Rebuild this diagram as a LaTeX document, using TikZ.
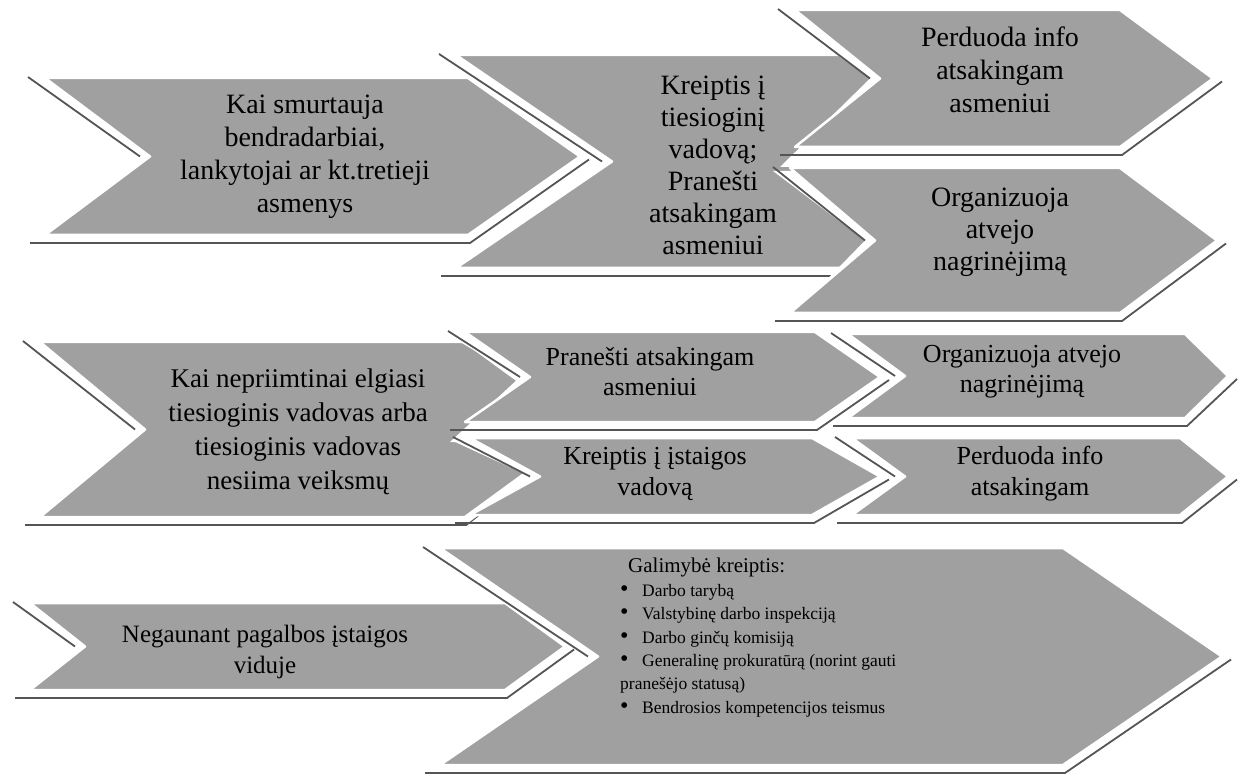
\documentclass[tikz,border=0pt]{standalone}
\usepackage{fontspec}
\setmainfont{Liberation Serif}
\definecolor{chev}{RGB}{160,160,160}
\definecolor{shad}{RGB}{85,85,85}
\tikzset{
  chevbody/.style={fill=chev, draw=white, line width=2.5pt, line join=round},
  shadowline/.style={draw=shad, line width=1.8pt},
  txt/.style={align=center, inner sep=0pt, text=black},
}
\newcommand\bul{\makebox[22pt][l]{\fontsize{24}{23.4}\selectfont •}}
% #1 name, #2 left x, #3 notch x, #4 right x, #5 tip x, #6 top y, #7 bottom y
\newcommand\chevshape[7]{%
  \pgfmathsetmacro\cy{(#6+#7)/2}
  \fill[white] ({#2-17},{#6+3}) -- ({#3-10},\cy) -- ({#2-15},{#7+20}) -- ({#4+2},{#7+20})
     -- ({#5+10},{\cy+3}) -- (#5,\cy) -- (#4,{#6+3}) -- cycle;
  \draw[shadowline] ({#2-17},{#6-1}) -- ({#3-10},\cy);
  \draw[shadowline] ({#2-15},{#7+8}) -- ({#4+2},{#7+8}) -- ({#5+9},{\cy+3});
  \filldraw[chevbody] (#2,#6) -- (#4,#6) -- (#5,\cy) -- (#4,#7) -- (#2,#7) -- (#3,\cy) -- cycle;
  \coordinate (#1) at ({(#3+#4)/2},\cy);
}
\begin{document}
\begin{tikzpicture}[x=1pt,y=-1pt]
\useasboundingbox (0,0) rectangle (1242,783);
% row 1
\chevshape{A}{45}{150}{468}{580}{78}{235}
\chevshape{B}{456}{612}{860}{960}{55}{268}
\chevshape{C}{795}{880}{1120}{1213}{10}{147}
\chevshape{D}{790}{875}{1120}{1217}{168}{313}
% row 2
\chevshape{E}{40}{145}{465}{585}{342}{517}
\chevshape{F}{465}{530}{815}{880}{332}{422}
\chevshape{G}{470}{540}{812}{880}{438}{515}
\chevshape{H}{848}{905}{1185}{1228}{334}{418}
\chevshape{I}{852}{905}{1180}{1228}{438}{515}
% row 3
\chevshape{J}{30}{85}{505}{565}{603}{690}
\chevshape{K}{440}{598}{1063}{1222}{548}{765}

\node[txt, font=\fontsize{28}{33}\selectfont] (tA) at (305,157)
  {Kai smurtauja\\bendradarbiai,\\lankytojai ar kt.tretieji\\asmenys};
\node[txt, font=\fontsize{28}{32}\selectfont] (tB) at (713,165)
  {Kreiptis į\\tiesioginį\\vadovą;\\Pranešti\\atsakingam\\asmeniui};
\node[txt, font=\fontsize{28}{33}\selectfont] (tC) at (1000,70)
  {Perduoda info\\atsakingam\\asmeniui};
\node[txt, font=\fontsize{28}{32}\selectfont] (tD) at (1000,232)
  {Organizuoja\\atvejo\\nagrinėjimą};
\node[txt, font=\fontsize{27}{34}\selectfont] (tE) at (298,432)
  {Kai nepriimtinai elgiasi\\tiesioginis vadovas arba\\tiesioginis vadovas\\nesiima veiksmų};
\node[txt, font=\fontsize{26}{30}\selectfont] (tF) at (650,372)
  {Pranešti atsakingam\\asmeniui};
\node[txt, font=\fontsize{26}{31}\selectfont] (tG) at (655,474)
  {Kreiptis į įstaigos\\vadovą};
\node[txt, font=\fontsize{26}{30}\selectfont] (tH) at (1022,372)
  {Organizuoja atvejo\\nagrinėjimą};
\node[txt, font=\fontsize{26}{31}\selectfont] (tI) at (1030,474)
  {Perduoda info\\atsakingam};
\node[txt, font=\fontsize{25}{31}\selectfont] (tJ) at (265,652)
  {Negaunant pagalbos įstaigos\\viduje};
\node[txt, anchor=west, font=\fontsize{21}{25}\selectfont] (tK) at (628,567)
  {Galimybė kreiptis:};
\node[anchor=north west, align=left, inner sep=0pt, font=\fontsize{17.5}{23.4}\selectfont] (tL) at (620,584)
  {\bul Darbo tarybą\\
   \bul Valstybinę darbo inspekciją\\
   \bul Darbo ginčų komisiją\\
   \bul Generalinę prokuratūrą (norint gauti\\
   pranešėjo statusą)\\
   \bul Bendrosios kompetencijos teismus};
\end{tikzpicture}
\end{document}
